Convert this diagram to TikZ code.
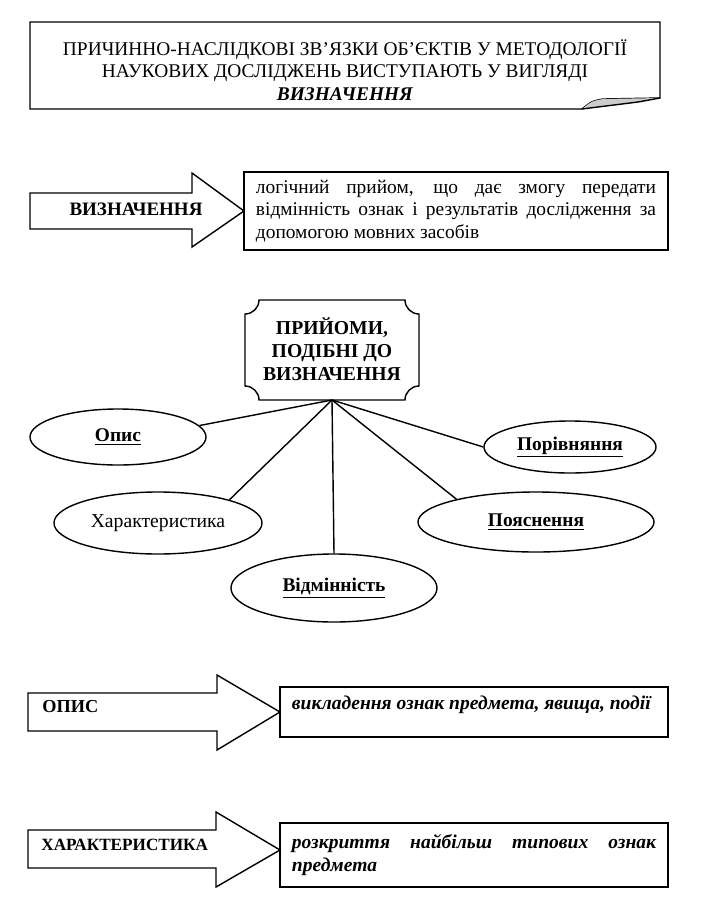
\documentclass[tikz,border=0pt]{standalone}
\usepackage{fontspec}
\setmainfont{Liberation Serif}
\usetikzlibrary{shapes.geometric}

\begin{document}
\begin{tikzpicture}[x=.025cm,y=-.025cm,line width=1pt,
 box/.style={draw,align=justify,inner xsep=.3cm,inner ysep=.15cm,font=\fontsize{13.8}{16}\selectfont},
 oval/.style={draw,ellipse,inner sep=0pt,font=\bfseries\fontsize{13.8}{16}\selectfont},
 lab/.style={font=\bfseries\fontsize{13}{16}\selectfont},
 blk/.style={draw,line join=miter}]
\useasboundingbox (0,0) rectangle (713,904);
% banner with folded corner
\draw (30,22)--(660,22)--(660,98)--(603,99) .. controls (592,101) .. (582,109)--(30,109)--cycle;
\fill[black!20] (582,109) .. controls (592,101) .. (603,99)--(660,98)--(638,102)--cycle;
\draw (582,109)--(638,102)--(660,98);
\node[align=center,font=\fontsize{13.8}{15.8}\selectfont] (title) at (345,70) {ПРИЧИННО-НАСЛІДКОВІ ЗВ’ЯЗКИ ОБ’ЄКТІВ У МЕТОДОЛОГІЇ\\НАУКОВИХ ДОСЛІДЖЕНЬ ВИСТУПАЮТЬ У ВИГЛЯДІ\\\textbf{\textit{ВИЗНАЧЕННЯ}}};
% definition
\draw[blk] (30,193)--(192,193)--(192,173)--(244,211)--(192,247)--(192,229)--(30,229)--cycle;
\node[lab,font=\bfseries\fontsize{13.5}{16}\selectfont] (defarr) at (136,209) {ВИЗНАЧЕННЯ};
\node[box,text width=10cm,minimum height=1.95cm] (defbox) at (456,211) {логічний прийом, що дає змогу передати\linebreak відмінність ознак і результатів дослідження за\linebreak допомогою мовних засобів};
% plaque
\draw (259,300)--(405,300) .. controls (405,307.7) and (411.3,314) .. (419,314)--(419,386) .. controls (411.3,386) and (405,392.3) .. (405,400)--(259,400) .. controls (259,392.3) and (252.7,386) .. (245,386)--(245,314) .. controls (252.7,314) and (259,307.7) .. (259,300)--cycle;
\node[align=center,font=\bfseries\fontsize{14}{16.5}\selectfont] (plaque) at (332,349) {ПРИЙОМИ,\\ПОДІБНІ ДО\\ВИЗНАЧЕННЯ};
\coordinate (hub) at (332,400);
\node[oval,minimum width=4.4cm,minimum height=1.4cm] (opys) at (118,437) {\underline{Опис}};
\node[oval,minimum width=4.3cm,minimum height=1.3cm] (por) at (570,447) {\underline{Порівняння}};
\node[oval,minimum width=5.2cm,minimum height=1.55cm,font=\fontsize{14}{16}\selectfont] (char) at (158,523) {Характеристика};
\node[oval,minimum width=5.9cm,minimum height=1.5cm] (poyas) at (536,522) {\underline{Пояснення}};
\node[oval,minimum width=5.15cm,minimum height=1.7cm] (vidm) at (334,588) {\underline{Відмінність}};
\draw (hub)--(opys.8);
\draw (hub)--(char.18);
\draw (hub)--(vidm.north);
\draw (hub)--(poyas.164);
\draw (hub)--(por.west);
% description
\draw[blk] (28,693)--(217,693)--(217,675)--(280,712)--(217,750)--(217,731)--(28,731)--cycle;
\node[lab,anchor=west] (opysarr) at (37,707) {ОПИС};
\node[box,text width=9.1cm,minimum height=1.25cm,text depth=.45cm,font=\bfseries\itshape\fontsize{13.9}{16.5}\selectfont] (opysbox) at (474,712) {викладення ознак предмета, явища, події};
% characteristic
\draw[blk] (28,830)--(216,830)--(216,812)--(280,850)--(216,887)--(216,868)--(28,868)--cycle;
\node[lab,anchor=west,font=\bfseries\fontsize{12.2}{14}\selectfont] (chararr) at (36,845) {ХАРАКТЕРИСТИКА};
\node[box,text width=9.1cm,minimum height=1.6cm,font=\bfseries\itshape\fontsize{13.9}{17}\selectfont] (charbox) at (474,855) {розкриття найбільш типових ознак\linebreak предмета};
\end{tikzpicture}
\end{document}
